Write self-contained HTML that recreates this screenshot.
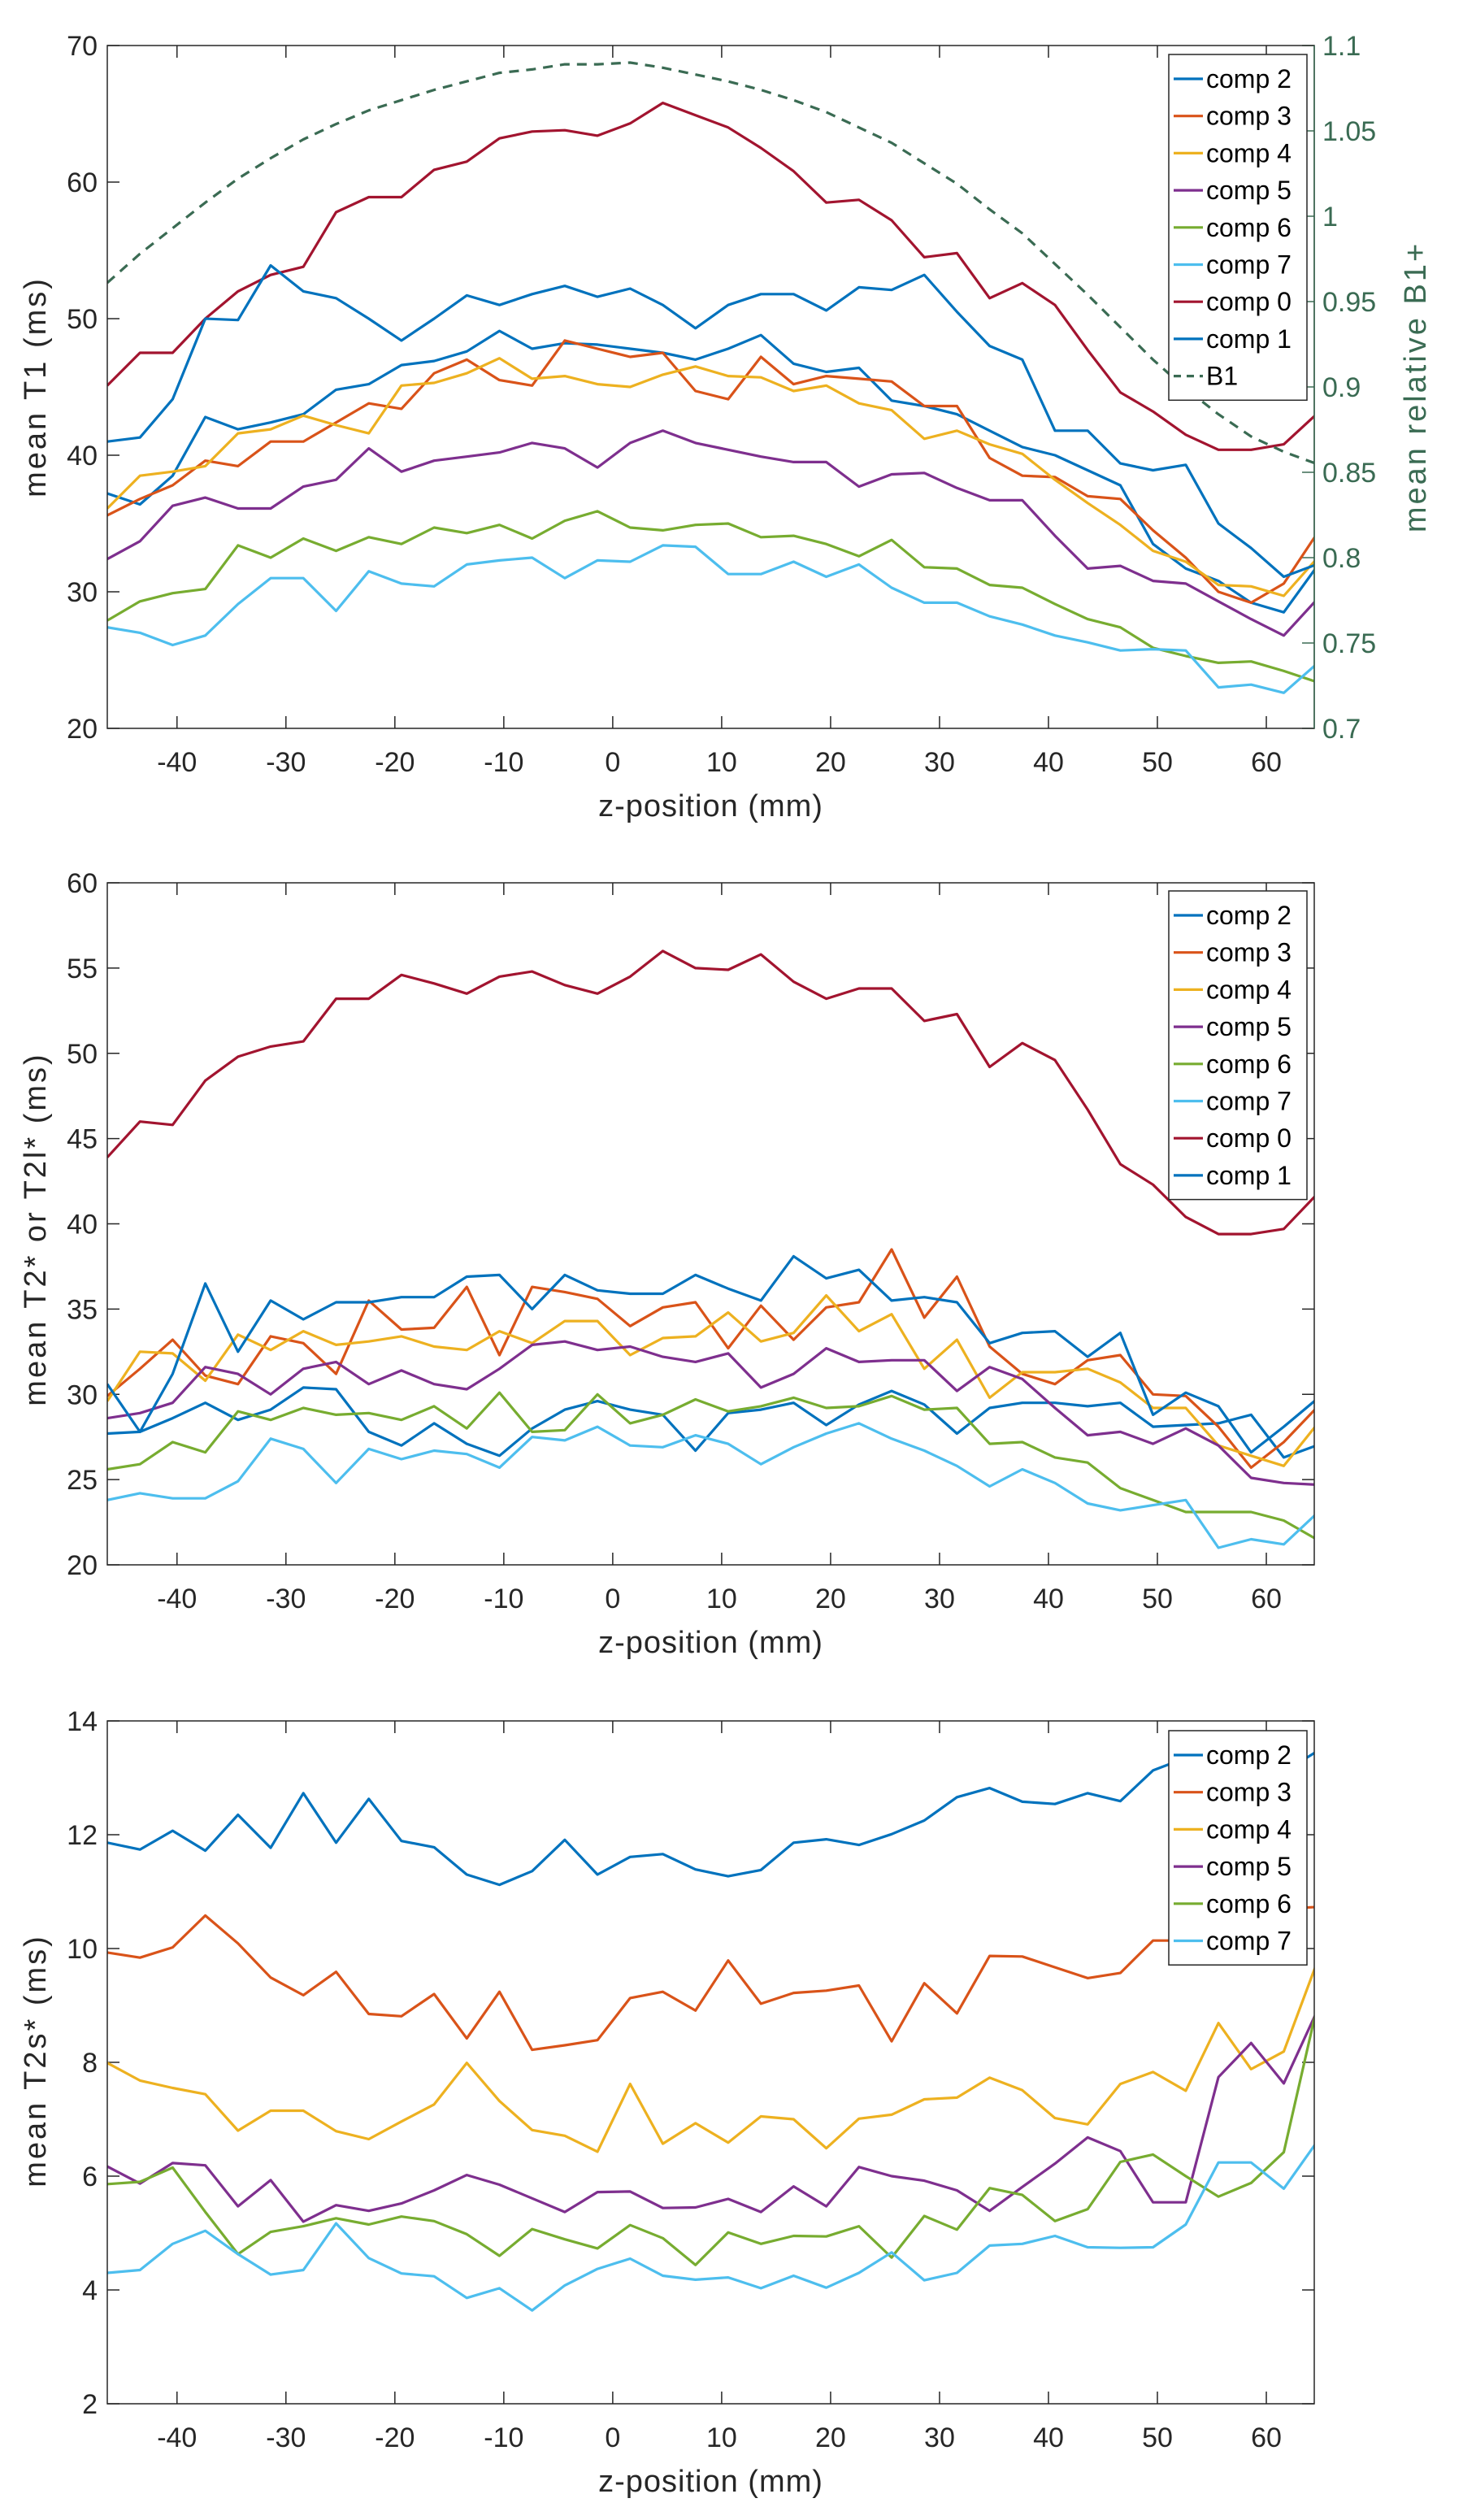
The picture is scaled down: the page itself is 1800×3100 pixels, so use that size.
<!DOCTYPE html>
<html><head><meta charset="utf-8"><style>
html,body{margin:0;padding:0;background:#fff}
svg{display:block;font-family:"Liberation Sans",Arial,sans-serif}
</style></head><body>
<svg id="fig" width="1800" height="3100" viewBox="0 0 1800 3100" xmlns="http://www.w3.org/2000/svg"></svg>
<script>
const xTicks=[-40,-30,-20,-10,0,10,20,30,40,50,60];
const zStart=-46.4, zStep=3.0, nPts=38;
// Chart 1: mean T1
const t1Ticks=[20,30,40,50,60,70];
const b1Ticks=[0.7,0.75,0.8,0.85,0.9,0.95,1,1.05,1.1];
const t1c2=[37.2,36.4,38.5,42.8,41.9,42.4,43.0,44.8,45.2,46.6,46.9,47.6,49.1,47.8,48.2,48.1,47.8,47.5,47.0,47.8,48.8,46.7,46.1,46.4,44.0,43.6,43.0,41.8,40.6,40.0,38.9,37.8,33.5,31.7,30.8,29.2,28.5,31.8];
const t1c3=[35.6,36.8,37.8,39.6,39.2,41.0,41.0,42.4,43.8,43.4,46.0,47.0,45.5,45.1,48.4,47.8,47.2,47.5,44.7,44.1,47.2,45.2,45.8,45.6,45.4,43.6,43.6,39.8,38.5,38.4,37.0,36.8,34.5,32.5,30.0,29.2,30.6,34.2];
const t1c4=[36.1,38.5,38.8,39.2,41.6,41.9,42.9,42.2,41.6,45.1,45.3,46.0,47.1,45.6,45.8,45.2,45.0,45.9,46.5,45.8,45.7,44.7,45.1,43.8,43.3,41.2,41.8,40.8,40.1,38.2,36.5,34.9,33.0,32.2,30.5,30.4,29.7,32.4];
const t1c5=[32.4,33.7,36.3,36.9,36.1,36.1,37.7,38.2,40.5,38.8,39.6,39.9,40.2,40.9,40.5,39.1,40.9,41.8,40.9,40.4,39.9,39.5,39.5,37.7,38.6,38.7,37.6,36.7,36.7,34.1,31.7,31.9,30.8,30.6,29.3,28.0,26.8,29.4];
const t1c6=[27.9,29.3,29.9,30.2,33.4,32.5,33.9,33.0,34.0,33.5,34.7,34.3,34.9,33.9,35.2,35.9,34.7,34.5,34.9,35.0,34.0,34.1,33.5,32.6,33.8,31.8,31.7,30.5,30.3,29.1,28.0,27.4,25.9,25.3,24.8,24.9,24.2,23.4];
const t1c7=[27.4,27.0,26.1,26.8,29.1,31.0,31.0,28.6,31.5,30.6,30.4,32.0,32.3,32.5,31.0,32.3,32.2,33.4,33.3,31.3,31.3,32.2,31.1,32.0,30.3,29.2,29.2,28.2,27.6,26.8,26.3,25.7,25.8,25.7,23.0,23.2,22.6,24.7];
const t1c0=[45.1,47.5,47.5,50.0,52.0,53.2,53.8,57.8,58.9,58.9,60.9,61.5,63.2,63.7,63.8,63.4,64.3,65.8,64.9,64.0,62.5,60.8,58.5,58.7,57.2,54.5,54.8,51.5,52.6,51.0,47.7,44.6,43.2,41.5,40.4,40.4,40.8,43.0];
const t1c1=[41.0,41.3,44.1,50.0,49.9,53.9,52.0,51.5,50.0,48.4,50.0,51.7,51.0,51.8,52.4,51.6,52.2,51.0,49.3,51.0,51.8,51.8,50.6,52.3,52.1,53.2,50.5,48.0,47.0,41.8,41.8,39.4,38.9,39.3,35.0,33.2,31.1,32.0];
const b1=[0.961,0.978,0.993,1.008,1.022,1.034,1.045,1.054,1.062,1.068,1.074,1.079,1.084,1.086,1.089,1.089,1.090,1.087,1.083,1.079,1.074,1.068,1.061,1.052,1.043,1.031,1.019,1.004,0.990,0.972,0.954,0.935,0.916,0.899,0.884,0.871,0.862,0.855];
// Chart 2: mean T2*
const t2Ticks=[20,25,30,35,40,45,50,55,60];
const t2c2=[27.7,27.8,28.6,29.5,28.5,29.1,30.4,30.3,27.8,27.0,28.3,27.1,26.4,28.0,29.1,29.6,29.1,28.8,26.7,28.9,29.1,29.5,28.2,29.4,30.2,29.4,27.7,29.2,29.5,29.5,29.3,29.5,28.1,28.2,28.3,28.8,26.3,27.0];
const t2c3=[29.9,31.5,33.2,31.1,30.6,33.4,33.0,31.2,35.5,33.8,33.9,36.3,32.3,36.3,36.0,35.6,34.0,35.1,35.4,32.7,35.2,33.2,35.1,35.4,38.5,34.5,36.9,32.8,31.2,30.6,32.0,32.3,30.0,29.9,28.1,25.7,27.2,29.2];
const t2c4=[29.6,32.5,32.4,30.8,33.5,32.6,33.7,32.9,33.1,33.4,32.8,32.6,33.7,33.0,34.3,34.3,32.3,33.3,33.4,34.8,33.1,33.6,35.8,33.7,34.7,31.5,33.2,29.8,31.3,31.3,31.5,30.7,29.2,29.2,27.0,26.4,25.8,28.2];
const t2c5=[28.6,28.9,29.5,31.6,31.2,30.0,31.5,31.9,30.6,31.4,30.6,30.3,31.5,32.9,33.1,32.6,32.8,32.2,31.9,32.4,30.4,31.2,32.7,31.9,32.0,32.0,30.2,31.6,30.9,29.2,27.6,27.8,27.1,28.0,27.0,25.1,24.8,24.7];
const t2c6=[25.6,25.9,27.2,26.6,29.0,28.5,29.2,28.8,28.9,28.5,29.3,28.0,30.1,27.8,27.9,30.0,28.3,28.8,29.7,29.0,29.3,29.8,29.2,29.3,29.9,29.1,29.2,27.1,27.2,26.3,26.0,24.5,23.8,23.1,23.1,23.1,22.6,21.5];
const t2c7=[23.8,24.2,23.9,23.9,24.9,27.4,26.8,24.8,26.8,26.2,26.7,26.5,25.7,27.5,27.3,28.1,27.0,26.9,27.6,27.1,25.9,26.9,27.7,28.3,27.4,26.7,25.8,24.6,25.6,24.8,23.6,23.2,23.5,23.8,21.0,21.5,21.2,23.0];
const t2c0=[43.9,46.0,45.8,48.4,49.8,50.4,50.7,53.2,53.2,54.6,54.1,53.5,54.5,54.8,54.0,53.5,54.5,56.0,55.0,54.9,55.8,54.2,53.2,53.8,53.8,51.9,52.3,49.2,50.6,49.6,46.7,43.5,42.3,40.4,39.4,39.4,39.7,41.7];
const t2c1=[30.6,27.8,31.2,36.5,32.5,35.5,34.4,35.4,35.4,35.7,35.7,36.9,37.0,35.0,37.0,36.1,35.9,35.9,37.0,36.2,35.5,38.1,36.8,37.3,35.5,35.7,35.4,33.0,33.6,33.7,32.2,33.6,28.8,30.1,29.3,26.6,28.1,29.7];
// Chart 3: mean T2s*
const t3Ticks=[2,4,6,8,10,12,14];
const t3c2=[11.86,11.74,12.07,11.72,12.35,11.77,12.73,11.86,12.63,11.89,11.78,11.30,11.12,11.36,11.91,11.30,11.61,11.66,11.39,11.27,11.38,11.86,11.92,11.82,12.01,12.25,12.66,12.82,12.58,12.54,12.73,12.59,13.13,13.35,13.4,13.3,13.1,13.46];
const t3c3=[9.93,9.84,10.02,10.58,10.09,9.49,9.18,9.59,8.85,8.81,9.20,8.42,9.24,8.22,8.30,8.39,9.13,9.24,8.91,9.79,9.03,9.22,9.26,9.35,8.37,9.39,8.86,9.87,9.86,9.67,9.48,9.57,10.14,10.14,10.4,10.6,10.7,10.73];
const t3c4=[7.99,7.68,7.55,7.44,6.80,7.15,7.15,6.79,6.65,6.96,7.26,7.99,7.32,6.81,6.71,6.43,7.62,6.57,6.93,6.59,7.05,7.00,6.49,7.01,7.08,7.35,7.38,7.73,7.51,7.02,6.91,7.62,7.83,7.50,8.69,7.88,8.19,9.73];
const t3c5=[6.17,5.87,6.23,6.19,5.47,5.93,5.20,5.49,5.39,5.52,5.75,6.02,5.85,5.61,5.37,5.72,5.73,5.44,5.45,5.60,5.37,5.82,5.47,6.16,6.00,5.92,5.75,5.39,5.81,6.22,6.68,6.44,5.54,5.54,7.74,8.34,7.63,8.88];
const t3c6=[5.86,5.90,6.15,5.37,4.63,5.02,5.12,5.26,5.15,5.29,5.21,4.98,4.60,5.07,4.89,4.73,5.14,4.91,4.44,5.01,4.81,4.95,4.94,5.12,4.57,5.30,5.06,5.79,5.67,5.21,5.42,6.25,6.38,6.00,5.64,5.88,6.42,8.93];
const t3c7=[4.30,4.35,4.81,5.04,4.63,4.27,4.35,5.17,4.56,4.29,4.24,3.86,4.03,3.64,4.08,4.37,4.55,4.25,4.18,4.22,4.03,4.25,4.04,4.30,4.66,4.17,4.30,4.78,4.81,4.95,4.75,4.74,4.75,5.15,6.24,6.24,5.78,6.59];

const C={c2:'#0072BD',c3:'#D95319',c4:'#EDB120',c5:'#7E2F8E',c6:'#77AC30',c7:'#4DBEEE',c0:'#A2142F',c1:'#0072BD'};
const GREEN='#3a6b53';
const NS='http://www.w3.org/2000/svg';
const svg=document.getElementById('fig');
const L=132,R=1617,X0=-46.4,X1=64.4;
function xs(v){return L+(v-X0)/(X1-X0)*(R-L);}
function mk(tag,attrs,parent){const e=document.createElementNS(NS,tag);for(const k in attrs)e.setAttribute(k,attrs[k]);(parent||svg).appendChild(e);return e;}
function zOf(i){return zStart+zStep*i;}

function chart(o){
  const g=mk('g',{});
  
  
  const ys=v=>o.B-(v-o.ymin)/(o.ymax-o.ymin)*(o.B-o.T);
  xTicks.forEach(t=>{
    const x=xs(t);
    const tk=mk('path',{d:`M${x},${o.B}v-15M${x},${o.T}v15`,stroke:'#262626','stroke-width':1.5},g);
    
    
    const tl=mk('text',{x:x,y:o.B+53,'text-anchor':'middle','font-size':34,fill:'#262626'},g);
    tl.textContent=String(t);
    
    
  });
  o.yt.forEach(t=>{
    const y=ys(t);
    const tk=mk('path',{d:`M${L},${y}h15`+(o.right?'':`M${R},${y}h-15`),stroke:'#262626','stroke-width':1.5},g);
    
    
    const tl=mk('text',{x:L-12,y:y+12,'text-anchor':'end','font-size':34,fill:'#262626'},g);
    tl.textContent=String(t);
    
    
  });
  if(o.right){
    const r=o.right;
    const yr=v=>o.B-(v-r.min)/(r.max-r.min)*(o.B-o.T);
    r.ticks.forEach(t=>{
      const y=yr(t);
      const tk=mk('path',{d:`M${R},${y}h-15`,stroke:GREEN,'stroke-width':1.5},g);
      
      
      const tl=mk('text',{x:R+10,y:y+12,'text-anchor':'start','font-size':34,fill:GREEN},g);
      tl.textContent=String(t);
      
      
    });
    const rt=mk('text',{transform:`translate(1754,${(o.T+o.B)/2}) rotate(-90)`,'text-anchor':'middle','font-size':38,'letter-spacing':3,fill:GREEN},g);
    rt.textContent='mean relative B1+';
    
    
  }
  o.series.forEach(s=>{
    const yf=s.axis==='right'?(v=>o.B-(v-o.right.min)/(o.right.max-o.right.min)*(o.B-o.T)):ys;
    const d=s.data.map((v,i)=>(i?'L':'M')+xs(zOf(i)).toFixed(1)+','+yf(v).toFixed(1)).join('');
    const p=mk('path',{d:d,fill:'none',stroke:s.color,'stroke-width':3.2,'stroke-linejoin':'round','clip-path':`url(#clip-${o.id})`},g);
    if(s.dash)p.setAttribute('stroke-dasharray','12,9');
    
    
  });
  const cp=mk('clipPath',{id:'clip-'+o.id},g);
  mk('rect',{x:L,y:o.T,width:R-L,height:o.B-o.T},cp);
  const fr=mk('rect',{x:L,y:o.T,width:R-L,height:o.B-o.T,fill:'none',stroke:'#262626','stroke-width':1.5},g);
  
  
  if(o.right){mk('line',{x1:R,y1:o.T,x2:R,y2:o.B,stroke:GREEN,'stroke-width':1.5},g);}
  const xt=mk('text',{x:(L+R)/2,y:o.B+108,'text-anchor':'middle','font-size':38,'letter-spacing':1,fill:'#262626'},g);
  xt.textContent='z-position (mm)';
  
  
  const yt=mk('text',{transform:`translate(56,${o.ycenter}) rotate(-90)`,'text-anchor':'middle','font-size':38,'letter-spacing':3,fill:'#262626'},g);
  yt.textContent=o.ytitle;
  
  
  const lg=mk('g',{},g);
  
  
  const lh=45.7, lx=1438, ly=o.T+o.legOff;
  mk('rect',{x:lx,y:ly,width:170,height:lh*o.series.length+14,fill:'#fff',stroke:'#262626','stroke-width':1.5},lg);
  o.series.forEach((s,i)=>{
    const cy=ly+30+i*lh;
    const en=mk('g',{},lg);
    
    
    const ln=mk('line',{x1:lx+6,y1:cy,x2:lx+42,y2:cy,stroke:s.color,'stroke-width':3.2},en);
    if(s.dash)ln.setAttribute('stroke-dasharray','9,7');
    const tx=mk('text',{x:lx+46,y:cy+11,'font-size':32,fill:'#000'},en);
    tx.textContent=s.label;
  });
}

chart({id:'t1',name:'t1-chart',T:56,B:896,ymin:20,ymax:70,yt:t1Ticks,ytitle:'mean T1 (ms)',ycenter:476,legOff:11,
  right:{min:0.7,max:1.1,ticks:b1Ticks},
  series:[{label:'comp 2',data:t1c2,color:C.c2},{label:'comp 3',data:t1c3,color:C.c3},{label:'comp 4',data:t1c4,color:C.c4},{label:'comp 5',data:t1c5,color:C.c5},{label:'comp 6',data:t1c6,color:C.c6},{label:'comp 7',data:t1c7,color:C.c7},{label:'comp 0',data:t1c0,color:C.c0},{label:'comp 1',data:t1c1,color:C.c1},{label:'B1',data:b1,color:GREEN,dash:true,axis:'right'}]});
chart({id:'t2',name:'t2-chart',T:1086,B:1925,ymin:20,ymax:60,yt:t2Ticks,ytitle:'mean T2* or T2l* (ms)',ycenter:1512,legOff:10,
  series:[{label:'comp 2',data:t2c2,color:C.c2},{label:'comp 3',data:t2c3,color:C.c3},{label:'comp 4',data:t2c4,color:C.c4},{label:'comp 5',data:t2c5,color:C.c5},{label:'comp 6',data:t2c6,color:C.c6},{label:'comp 7',data:t2c7,color:C.c7},{label:'comp 0',data:t2c0,color:C.c0},{label:'comp 1',data:t2c1,color:C.c1}]});
chart({id:'t3',name:'t2s-chart',T:2117,B:2957,ymin:2,ymax:14,yt:t3Ticks,ytitle:'mean T2s* (ms)',ycenter:2535,legOff:12,
  series:[{label:'comp 2',data:t3c2,color:C.c2},{label:'comp 3',data:t3c3,color:C.c3},{label:'comp 4',data:t3c4,color:C.c4},{label:'comp 5',data:t3c5,color:C.c5},{label:'comp 6',data:t3c6,color:C.c6},{label:'comp 7',data:t3c7,color:C.c7}]});
</script>
</body></html>
